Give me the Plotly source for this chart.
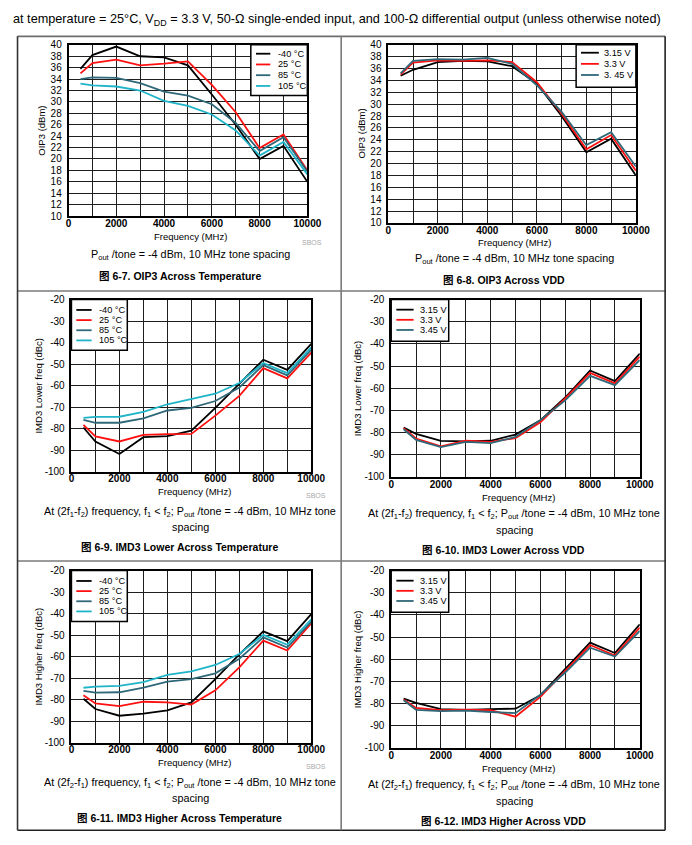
import plotly.graph_objects as go

# The page keeps the browser's 8 px body margin, so the figure is 16 px smaller
# than the window and reference pixel positions are shifted by OFF.
PAGE_W, PAGE_H = 692, 845
OFF = 8
W, H = PAGE_W - 2 * OFF, PAGE_H - 2 * OFF

freq = [500, 1000, 2000, 3000, 4000, 5000, 6000, 7000, 8000, 9000, 10000]

# Fig 6-7 OIP3 across temperature
temp_names = ["-40 °C", "25 °C", "85 °C", "105 °C"]
oip3_m40 = [35.8, 38.2, 39.7, 38.0, 37.8, 36.4, 31.3, 26.0, 20.0, 22.3, 16.0]
oip3_25 = [35.0, 36.8, 37.4, 36.4, 36.7, 37.1, 33.0, 28.2, 21.9, 24.3, 18.0]
oip3_85 = [34.0, 34.3, 34.2, 33.3, 31.8, 31.1, 29.6, 26.3, 21.4, 23.8, 17.8]
oip3_105 = [33.2, 32.9, 32.7, 32.0, 30.2, 29.3, 27.8, 25.0, 20.6, 23.0, 17.3]

# Fig 6-8 OIP3 across VDD
vdd_names_a = ["3.15 V", "3.3 V", "3. 45 V"]
vdd_names_b = ["3.15 V", "3.3 V", "3.45 V"]
oip3_315 = [34.8, 35.8, 37.1, 37.3, 37.2, 36.4, 33.5, 28.0, 21.9, 24.2, 18.0]
oip3_330 = [35.0, 37.0, 37.4, 37.3, 37.4, 37.1, 33.7, 28.4, 22.4, 24.8, 18.8]
oip3_345 = [35.2, 37.3, 37.6, 37.5, 37.8, 36.8, 33.2, 28.7, 23.1, 25.3, 19.5]

# Fig 6-9 IMD3 lower across temperature
imdl_m40 = [-79.5, -86.0, -91.8, -84.0, -83.5, -81.0, -70.4, -59.0, -48.0, -52.7, -40.6]
imdl_25 = [-78.3, -83.6, -86.0, -82.9, -82.6, -82.5, -74.0, -64.8, -51.9, -56.7, -44.7]
imdl_85 = [-76.0, -77.3, -77.3, -75.3, -71.6, -70.4, -67.2, -60.9, -50.5, -55.3, -43.3]
imdl_105 = [-75.0, -74.6, -74.5, -72.2, -68.7, -66.4, -63.8, -58.8, -49.5, -54.2, -42.3]

# Fig 6-10 IMD3 lower across VDD
imdlv_315 = [-77.8, -80.6, -83.8, -84.0, -83.7, -80.9, -74.5, -64.2, -52.0, -56.8, -44.4]
imdlv_330 = [-78.0, -82.7, -86.2, -83.6, -84.2, -82.5, -75.4, -64.6, -53.1, -57.8, -45.8]
imdlv_345 = [-78.5, -83.3, -86.6, -84.2, -84.8, -82.0, -74.4, -65.5, -54.4, -58.6, -47.2]

# Fig 6-11 IMD3 higher across temperature
imdh_m40 = [-79.6, -84.4, -87.5, -86.5, -85.0, -81.3, -70.5, -59.0, -48.3, -52.8, -40.3]
imdh_25 = [-78.0, -81.8, -83.0, -81.0, -81.3, -82.3, -75.7, -65.0, -52.6, -57.2, -44.6]
imdh_85 = [-76.0, -76.8, -76.6, -74.5, -71.6, -70.5, -67.8, -61.0, -51.1, -55.8, -43.8]
imdh_105 = [-74.5, -74.0, -73.6, -71.9, -68.5, -66.9, -63.9, -58.8, -49.9, -54.5, -42.7]

# Fig 6-12 IMD3 higher across VDD
imdhv_315 = [-77.8, -79.7, -82.5, -82.8, -82.5, -82.3, -76.3, -64.5, -52.5, -57.2, -44.3]
imdhv_330 = [-78.2, -82.0, -83.0, -82.7, -83.0, -85.9, -77.0, -65.5, -53.6, -58.3, -45.7]
imdhv_345 = [-78.5, -82.8, -83.4, -83.2, -83.8, -84.3, -76.0, -66.0, -54.8, -58.8, -47.2]

temp_colors = ["#000000", "#ff1010", "#2f6878", "#1fb4c8"]
vdd_colors = ["#000000", "#ff1010", "#2f6878"]

x_ticks = [0, 2000, 4000, 6000, 8000, 10000]
x_ticktext = ["0", "2000", "4000", "6000", "8000", "10000"]
oip3_ticks = list(range(10, 41, 2))
imd_ticks = list(range(-100, -19, 10))

FONT = "Liberation Sans, Arial, Noto Sans CJK SC, sans-serif"

def xp(px):
    return (px - OFF) / W

def yp(py):
    return 1 - (py - OFF) / H

panels = [
    dict(box=(67, 312, 39.3, 213), yr=(10, 40), yt=oip3_ticks, ytitle="OIP3 (dBm)",
         series=[oip3_m40, oip3_25, oip3_85, oip3_105], names=temp_names, colors=temp_colors,
         leg=dict(side="right", w=58, h=51.4, first=9.0, step=10.9, sx0=5.3, sx1=20, tx=25.5),
         ytx=39, xtl=234, sbos=(317, 240)),
    dict(box=(395, 649, 39.3, 220), yr=(10, 40), yt=oip3_ticks, ytitle="OIP3 (dBm)",
         series=[oip3_315, oip3_330, oip3_345], names=vdd_names_a, colors=vdd_colors,
         leg=dict(side="right", w=61.3, h=43.0, first=8.0, step=11.3, sx0=5, sx1=23.3, tx=26.6),
         ytx=367.7, xtl=240, sbos=None),
    dict(box=(70, 316, 297.7, 472.3), yr=(-100, -20), yt=imd_ticks, ytitle="IMD3 Lower freq (dBc)",
         series=[imdl_m40, imdl_25, imdl_85, imdl_105], names=temp_names, colors=temp_colors,
         leg=dict(side="left", w=57.3, h=51.6, first=10.6, step=10.3, sx0=5, sx1=20.7, tx=26.2),
         ytx=36.7, xtl=493, sbos=(321, 496.7)),
    dict(box=(398, 653, 297.7, 477.7), yr=(-100, -20), yt=imd_ticks, ytitle="IMD3 Lower freq (dBc)",
         series=[imdlv_315, imdlv_330, imdlv_345], names=vdd_names_b, colors=vdd_colors,
         leg=dict(side="left", w=59, h=42.3, first=10.3, step=10.3, sx0=5.3, sx1=23, tx=27.5),
         ytx=363, xtl=498.5, sbos=None),
    dict(box=(70, 316, 572.7, 747.3), yr=(-100, -20), yt=imd_ticks, ytitle="IMD3 Higher freq (dBc)",
         series=[imdh_m40, imdh_25, imdh_85, imdh_105], names=temp_names, colors=temp_colors,
         leg=dict(side="left", w=57.3, h=51.6, first=10.6, step=10.3, sx0=5, sx1=20.7, tx=26.2),
         ytx=36.7, xtl=768, sbos=(321, 771.7)),
    dict(box=(398, 653, 572.7, 752.7), yr=(-100, -20), yt=imd_ticks, ytitle="IMD3 Higher freq (dBc)",
         series=[imdhv_315, imdhv_330, imdhv_345], names=vdd_names_b, colors=vdd_colors,
         leg=dict(side="left", w=59, h=42.3, first=10.3, step=10.3, sx0=5.3, sx1=23, tx=27.5),
         ytx=363, xtl=773.5, sbos=None),
]

fig = go.Figure()
shapes = []
annotations = []
layout = dict(
    width=W, height=H, margin=dict(l=0, r=0, t=0, b=0), autosize=False,
    paper_bgcolor="white", plot_bgcolor="white", showlegend=False,
    font=dict(family=FONT, size=10, color="black"),
)

for i, p in enumerate(panels):
    n = i + 1
    sfx = "" if n == 1 else str(n)
    L, R, T, B = p["box"]
    layout["xaxis" + sfx] = dict(
        domain=[xp(L), xp(R)], anchor="y" + sfx, range=[0, 10000],
        tickvals=x_ticks, ticktext=x_ticktext, ticks="", showgrid=True,
        gridcolor="#1e1e1e", gridwidth=1.3,
        minor=dict(dtick=1000, tick0=0, showgrid=True, gridcolor="#1e1e1e", gridwidth=1.3),
        showline=True, linecolor="black", linewidth=1.6, mirror=True, zeroline=False,
        tickfont=dict(family=FONT, size=10, color="black", weight="bold"), ticklabelstandoff=-3,
    )
    layout["yaxis" + sfx] = dict(
        domain=[yp(B), yp(T)], anchor="x" + sfx, range=list(p["yr"]),
        tickvals=p["yt"], ticktext=[str(v) for v in p["yt"]],
        ticks="", showgrid=True, gridcolor="#1e1e1e", gridwidth=1.3,
        showline=True, linecolor="black", linewidth=1.6, mirror=True, zeroline=False,
        tickfont=dict(family=FONT, size=10, color="black"), ticklabelstandoff=3,
    )
    for s, nm, c in zip(p["series"], p["names"], p["colors"]):
        fig.add_trace(go.Scatter(x=freq, y=s, mode="lines", name=nm,
                                 line=dict(color=c, width=1.8),
                                 xaxis="x" + sfx, yaxis="y" + sfx))
    annotations.append(dict(text="Frequency (MHz)", x=xp((L + R) / 2 + 3), y=yp(p["xtl"]),
                            xref="paper", yref="paper", showarrow=False,
                            font=dict(size=9.5, family=FONT), xanchor="center", yanchor="middle"))
    annotations.append(dict(text=p["ytitle"], x=xp(p["ytx"]), y=yp((T + B) / 2),
                            xref="paper", yref="paper", showarrow=False, textangle=-90,
                            font=dict(size=9.5, family=FONT), xanchor="center", yanchor="middle"))
    if p["sbos"]:
        annotations.append(dict(text="SBOS", x=xp(p["sbos"][0]), y=yp(p["sbos"][1]),
                                xref="paper", yref="paper", showarrow=False,
                                font=dict(size=7, family=FONT, color="#a8a8a8"),
                                xanchor="center", yanchor="middle"))
    lg = p["leg"]
    if lg["side"] == "right":
        bx0, bx1 = R - lg["w"], R
    else:
        bx0, bx1 = L, L + lg["w"]
    shapes.append(dict(type="rect", xref="paper", yref="paper", x0=xp(bx0), x1=xp(bx1),
                       y0=yp(T + lg["h"]), y1=yp(T), line=dict(color="black", width=1.5),
                       fillcolor="white", layer="above"))
    for k, (nm, c) in enumerate(zip(p["names"], p["colors"])):
        yy = T + lg["first"] + k * lg["step"]
        shapes.append(dict(type="line", xref="paper", yref="paper",
                           x0=xp(bx0 + lg["sx0"]), x1=xp(bx0 + lg["sx1"]), y0=yp(yy), y1=yp(yy),
                           line=dict(color=c, width=1.8), layer="above"))
        annotations.append(dict(text=nm, x=xp(bx0 + lg["tx"]), y=yp(yy), xref="paper", yref="paper",
                                showarrow=False, xanchor="left", yanchor="middle",
                                font=dict(size=9.2, family=FONT)))

cap_pout = "P<sub>out</sub> /tone = -4 dBm, 10 MHz tone spacing"
cap_low = "At (2f<sub>1</sub>-f<sub>2</sub>) frequency, f<sub>1</sub> &lt; f<sub>2</sub>; P<sub>out</sub> /tone = -4 dBm, 10 MHz tone"
cap_high = "At (2f<sub>2</sub>-f<sub>1</sub>) frequency, f<sub>1</sub> &lt; f<sub>2</sub>; P<sub>out</sub> /tone = -4 dBm, 10 MHz tone"
texts = [
    (cap_pout, 192, 253, False), ("图 6-7. OIP3 Across Temperature", 181.7, 274, True),
    (cap_pout, 524, 257, False), ("图 6-8. OIP3 Across VDD", 513.7, 277.7, True),
    (cap_low, 192, 513, False), ("spacing", 192.3, 528.5, False),
    ("图 6-9. IMD3 Lower Across Temperature", 180.5, 549.3, True),
    (cap_low, 524.3, 515.5, False), ("spacing", 524.3, 531.7, False),
    ("图 6-10. IMD3 Lower Across VDD", 513.2, 551.7, True),
    (cap_high, 192, 788, False), ("spacing", 192.3, 803.5, False),
    ("图 6-11. IMD3 Higher Across Temperature", 180.5, 824.3, True),
    (cap_high, 524.3, 790.5, False), ("spacing", 524.3, 806.7, False),
    ("图 6-12. IMD3 Higher Across VDD", 513.2, 826.7, True),
]
for t, x, y, bold in texts:
    annotations.append(dict(text=t, x=xp(x), y=yp(y), xref="paper", yref="paper", showarrow=False,
                            xanchor="center", yanchor="middle",
                            font=dict(size=10.5 if bold else 10.8, family=FONT,
                                      weight="bold" if bold else "normal")))

annotations.append(dict(
    text="at temperature = 25°C, V<sub>DD</sub> = 3.3 V, 50-Ω single-ended input, and 100-Ω differential output (unless otherwise noted)",
    x=0, y=yp(14), xref="paper", yref="paper", showarrow=False, xanchor="left", yanchor="middle",
    font=dict(size=12.7, family=FONT)))

def hline(y, x0, x1, color, w):
    shapes.append(dict(type="line", xref="paper", yref="paper", x0=xp(x0), x1=xp(x1),
                       y0=yp(y), y1=yp(y), line=dict(color=color, width=w), layer="below"))

def vline(x, y0, y1, color, w):
    shapes.append(dict(type="line", xref="paper", yref="paper", x0=xp(x), x1=xp(x),
                       y0=yp(y0), y1=yp(y1), line=dict(color=color, width=w), layer="below"))

BOT = 836.3
hline(30.7, 14.7, 679, "#6e6e6e", 1.6)
hline(289, 14.7, 679, "#7a7a7a", 1.6)
hline(563, 14.7, 679, "#7a7a7a", 1.6)
hline(BOT, 14.7, 679, "#222222", 1.6)
vline(14.7, 30.7, BOT, "#333333", 1.6)
vline(679, 30.7, BOT, "#222222", 1.6)
vline(346.7, 30.7, BOT, "#7a7a7a", 1.6)

layout["shapes"] = shapes
layout["annotations"] = annotations
fig.update_layout(**layout)
fig.write_html("out.html", config={"displayModeBar": False})
